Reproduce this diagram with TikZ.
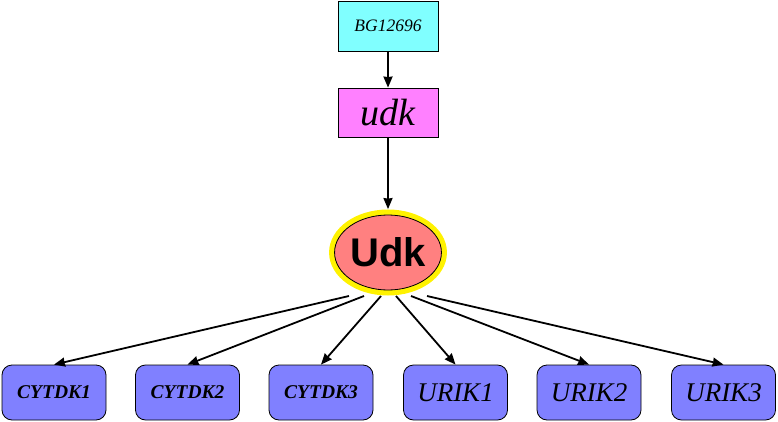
\documentclass[tikz,border=0pt]{standalone}
\usepackage{fontspec}
\setmainfont{Liberation Serif}
\newfontfamily\arialfont{Liberation Sans}
\usetikzlibrary{arrows.meta,shapes.geometric}
\definecolor{cyanbox}{HTML}{80FFFF}
\definecolor{magbox}{HTML}{FF80FF}
\definecolor{salmon}{HTML}{FF8080}
\definecolor{bluebox}{HTML}{8080FF}
\tikzset{
  genebox/.style={draw=black, line width=0.8pt, inner sep=0pt, minimum width=100pt},
  protbox/.style={draw=black, line width=0.8pt, fill=bluebox, rounded corners=10pt,
    minimum width=104pt, minimum height=55pt, inner sep=0pt},
  conn/.style={line width=1.8pt, -{Stealth[length=11pt,width=9pt,inset=0.5pt]}},
}
\begin{document}
\begin{tikzpicture}[x=1pt,y=-1pt]
\useasboundingbox (0,0) rectangle (778,422);
\node[genebox, fill=cyanbox, minimum height=50pt] (bg) at (388,26) {\fontsize{17.5}{19}\selectfont\itshape BG12696};
\node[genebox, fill=magbox, minimum height=49pt] (udk) at (388,112.5) {\fontsize{38}{40}\selectfont\itshape udk};
\node[ellipse, draw=black, line width=0.8pt, fill=salmon, minimum width=100pt, minimum height=75pt,
  inner sep=0pt, preaction={draw=yellow, line width=11pt}] (U) at (388,252.5)
  {\fontsize{40}{41}\selectfont\arialfont\bfseries Udk};
\node[protbox] (c1) at (54,392.5) {\fontsize{19.5}{21}\selectfont\bfseries\itshape CYTDK1};
\node[protbox] (c2) at (187.5,392.5) {\fontsize{19.5}{21}\selectfont\bfseries\itshape CYTDK2};
\node[protbox] (c3) at (321,392.5) {\fontsize{19.5}{21}\selectfont\bfseries\itshape CYTDK3};
\node[protbox] (u1) at (455.5,392.5) {\fontsize{27}{29}\selectfont\itshape URIK1};
\node[protbox] (u2) at (589,392.5) {\fontsize{27}{29}\selectfont\itshape URIK2};
\node[protbox] (u3) at (723.5,392.5) {\fontsize{27}{29}\selectfont\itshape URIK3};
\coordinate (t1) at (349,296);
\coordinate (t2) at (364,296);
\coordinate (t3) at (381,296);
\coordinate (t4) at (396,296);
\coordinate (t5) at (411,296);
\coordinate (t6) at (427,296);
\draw[conn] (bg.south) -- (udk.north);
\draw[conn, shorten >=5.5pt] (udk.south) -- (U.north);
\draw[conn] (t1) -- (c1.north);
\draw[conn] (t2) -- (c2.north);
\draw[conn] (t3) -- (c3.north);
\draw[conn] (t4) -- (u1.north);
\draw[conn] (t5) -- (u2.north);
\draw[conn] (t6) -- (u3.north);
\end{tikzpicture}
\end{document}
